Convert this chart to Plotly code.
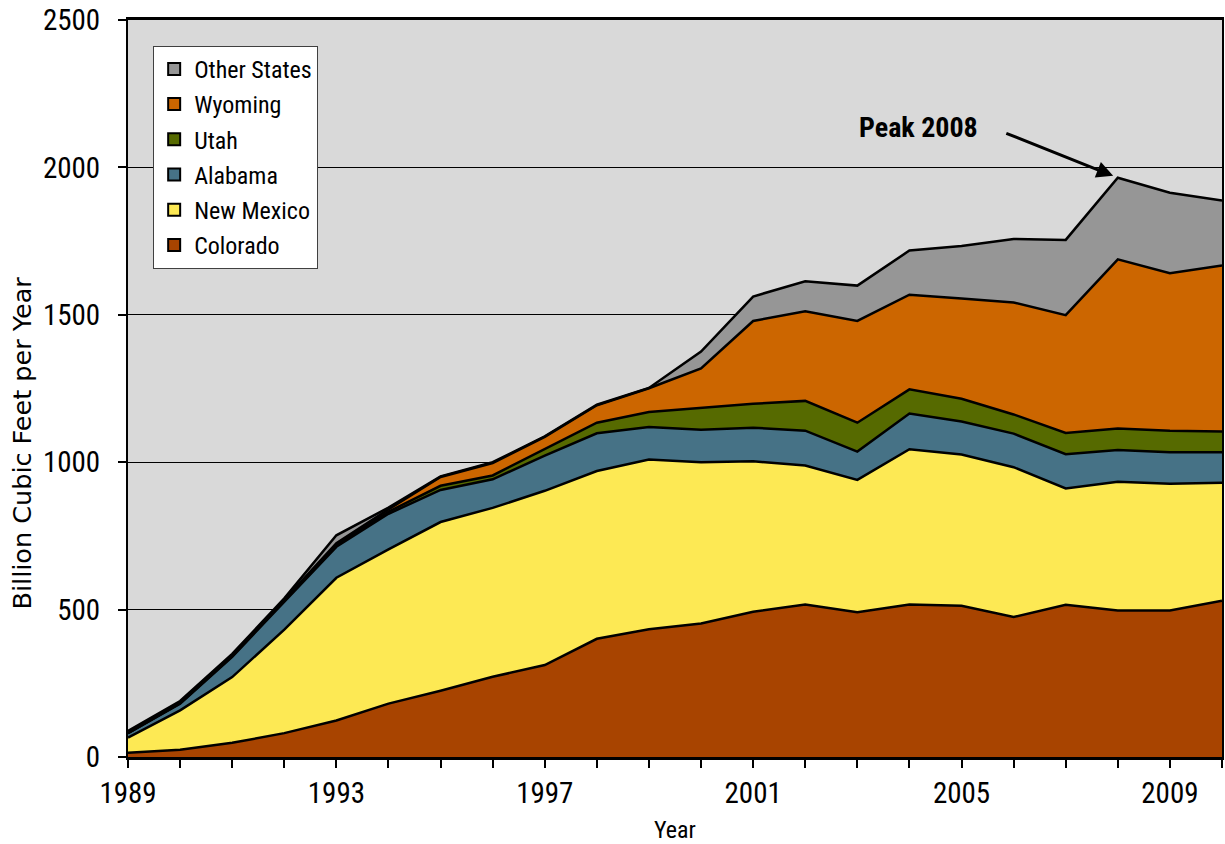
import plotly.graph_objects as go

years = list(range(1989, 2011))

# billion cubic feet per year
colorado = [14, 25, 48, 81, 124, 181, 225, 272, 312, 401, 433, 453, 493, 517, 491, 517, 513, 475, 516, 497, 497, 530]
new_mexico = [52, 133, 223, 351, 484, 523, 572, 573, 591, 569, 576, 547, 510, 472, 449, 527, 513, 508, 395, 437, 430, 400]
alabama = [15, 23, 69, 94, 105, 121, 109, 97, 119, 128, 110, 110, 114, 118, 96, 121, 112, 114, 116, 107, 107, 104]
utah = [0, 1, 2, 3, 6, 7, 14, 13, 23, 36, 51, 74, 81, 101, 98, 82, 77, 65, 72, 73, 73, 70]
wyoming = [1, 2, 3, 4, 6, 8, 30, 42, 41, 59, 81, 134, 281, 304, 345, 321, 340, 380, 400, 574, 534, 563]
other = [6, 6, 5, 5, 27, 6, 2, 3, 2, 2, 1, 57, 83, 102, 120, 150, 178, 215, 255, 277, 273, 221]

series = [
    ("Colorado", colorado, "#A84400"),
    ("New Mexico", new_mexico, "#FDE954"),
    ("Alabama", alabama, "#467286"),
    ("Utah", utah, "#566A00"),
    ("Wyoming", wyoming, "#CC6600"),
    ("Other States", other, "#969696"),
]

narrow = "Liberation Sans Narrow, Arial Narrow, Roboto Condensed, sans-serif"

fig = go.Figure()

# stacked areas
for name, vals, col in series:
    fig.add_trace(go.Scatter(x=years, y=vals, name=name, stackgroup="one",
                             mode="lines", line=dict(color="black", width=2.5),
                             fillcolor=col, showlegend=False))

# square legend swatches, top of stack first
for name, vals, col in series[::-1]:
    fig.add_trace(go.Scatter(x=[None], y=[None], name=name, mode="markers",
                             marker=dict(symbol="square", size=12, color=col,
                                         line=dict(color="black", width=2)),
                             legendgroup=name))

fig.add_annotation(x=2004.18, y=2137, text="Peak 2008", showarrow=False,
                   font=dict(family=narrow, size=28, color="black", weight="bold"))
fig.add_annotation(x=2008, y=1965, ax=-113, ay=-45, text="", showarrow=True,
                   arrowhead=2, arrowsize=1.1, arrowwidth=3, arrowcolor="black",
                   standoff=5)

# axis titles
fig.add_annotation(xref="paper", yref="paper", x=0.5, y=-0.099, yanchor="middle",
                   text="Year", showarrow=False, font=dict(family=narrow, size=24))
fig.add_annotation(xref="paper", yref="paper", x=-0.0965, y=0.426, xanchor="center",
                   yanchor="middle", text="Billion Cubic Feet per Year", textangle=-90,
                   showarrow=False, font=dict(family="DejaVu Sans", size=25.5))

fig.update_layout(
    width=1225, height=844,
    margin=dict(l=128, r=3, t=20, b=87),
    paper_bgcolor="white", plot_bgcolor="#D9D9D9",
    font=dict(family=narrow, color="black", size=24),
    legend=dict(x=0.023, y=0.965, xanchor="left", yanchor="top",
                bgcolor="white", bordercolor="#404040", borderwidth=1,
                traceorder="grouped", tracegroupgap=1,
                font=dict(family=narrow, size=24), itemwidth=30),
)

fig.update_xaxes(range=[1989, 2010], tick0=1989, dtick=4, ticks="outside",
                 ticklen=8, tickwidth=2, tickcolor="black",
                 minor=dict(dtick=1, ticks="outside", ticklen=8, tickwidth=2, tickcolor="black"),
                 showline=True, linecolor="black", linewidth=3, mirror=True, showgrid=False,
                 tickfont=dict(size=29), automargin=False, zeroline=False)
fig.update_yaxes(range=[0, 2500], dtick=500, ticks="outside", ticklen=8,
                 tickwidth=2, tickcolor="black", showline=True, linecolor="black",
                 linewidth=2, mirror=True, showgrid=True, gridcolor="black", gridwidth=1,
                 tickfont=dict(size=29), ticklabelstandoff=12, ticklabeloverflow="allow",
                 automargin=False, zeroline=False)

# drop the default page margin so the figure fills the window exactly
fig.write_html("out.html", config={"displayModeBar": False},
               post_script="document.body.style.margin='0';")
